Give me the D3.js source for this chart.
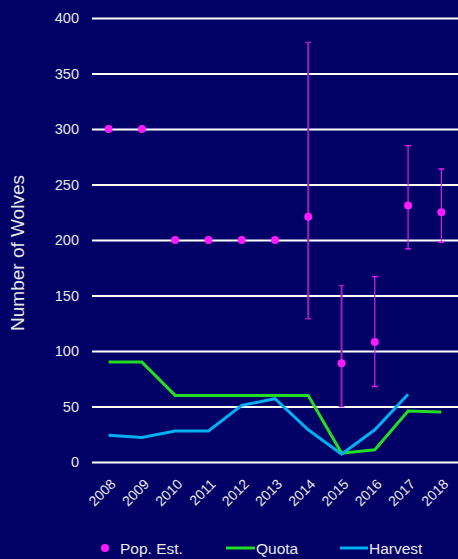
<!DOCTYPE html>
<html>
<head>
<meta charset="utf-8">
<script src="https://cdn.jsdelivr.net/npm/d3@7"></script>
<style>
  body { margin: 0; background: #000066; }
  svg { display: block; font-family: "Liberation Sans", Arial, sans-serif; }
</style>
</head>
<body>
<svg id="chart" width="458" height="559"></svg>
<script>
var years = ["2008","2009","2010","2011","2012","2013","2014","2015","2016","2017","2018"];
var popEst = [300, 300, 200, 200, 200, 200, 221, 89, 108, 231, 225];
var popLow = [null, null, null, null, null, null, 129, 50, 68, 192, 198];
var popHigh = [null, null, null, null, null, null, 378, 159, 167, 285, 264];
var quota = [90, 90, 60, 60, 60, 60, 60, 8, 11, 46, 45];
var harvest = [24, 22, 28, 28, 51, 57, 29, 7, 29, 61, null];
var yTicks = [0, 50, 100, 150, 200, 250, 300, 350, 400];

var svg = d3.select("#chart");
var margin = {top: 18, right: 0, bottom: 97, left: 92};
var width = 458, height = 559;

var x = d3.scaleBand()
    .domain(years)
    .range([margin.left, width - margin.right]);

var y = d3.scaleLinear()
    .domain([0, 400])
    .range([height - margin.bottom, margin.top]);

var textColor = "#e8e8e8";

// gridlines + y labels
var yAxis = d3.axisLeft(y)
    .tickValues(yTicks)
    .tickSize(-(width - margin.left - margin.right))
    .tickPadding(13);

var gy = svg.append("g")
    .attr("transform", "translate(" + margin.left + ",0)")
    .call(yAxis);
gy.select(".domain").remove();
gy.selectAll(".tick line").attr("stroke", "#ffffff").attr("stroke-width", 2);
gy.selectAll(".tick text").attr("fill", textColor).attr("font-size", "14.5px");

// x axis labels
var xAxis = d3.axisBottom(x).tickSize(0).tickPadding(0);
var gx = svg.append("g")
    .attr("transform", "translate(0," + (height - margin.bottom) + ")")
    .call(xAxis);
gx.select(".domain").remove();
gx.selectAll(".tick text")
    .attr("fill", textColor)
    .attr("font-size", "14px")
    .attr("text-anchor", "end")
    .attr("dy", null)
    .attr("transform", "translate(8,23) rotate(-45)");

// y title
svg.append("text")
    .attr("transform", "translate(24," + 253 + ") rotate(-90)")
    .attr("text-anchor", "middle")
    .attr("fill", textColor)
    .attr("font-size", "19px")
    .text("Number of Wolves");

function cx(i) { return x(years[i]) + x.bandwidth() / 2; }

// lines
var line = d3.line()
    .defined(function(d) { return d != null; })
    .x(function(d, i) { return cx(i); })
    .y(function(d) { return y(d); });

svg.append("path")
    .datum(quota)
    .attr("d", line)
    .attr("fill", "none")
    .attr("stroke", "#22dd22")
    .attr("stroke-width", 3);

svg.append("path")
    .datum(harvest)
    .attr("d", line)
    .attr("fill", "none")
    .attr("stroke", "#00b0f0")
    .attr("stroke-width", 3);

// error bars
var errIdx = d3.range(years.length).filter(function(i) { return popLow[i] != null; });
var errColor = function(i) { return i <= 7 ? "#a020b8" : "#e020e0"; };
var errWidth = function(i) { return i <= 7 ? 2 : 1.2; };

var eg = svg.append("g");
errIdx.forEach(function(i) {
    eg.append("line")
        .attr("x1", cx(i)).attr("x2", cx(i))
        .attr("y1", y(popLow[i])).attr("y2", y(popHigh[i]))
        .attr("stroke", errColor(i)).attr("stroke-width", errWidth(i));
    [popLow[i], popHigh[i]].forEach(function(v) {
        eg.append("line")
            .attr("x1", cx(i) - 3).attr("x2", cx(i) + 3)
            .attr("y1", y(v)).attr("y2", y(v))
            .attr("stroke", errColor(i)).attr("stroke-width", 1.5);
    });
});

// points
svg.selectAll("circle.pop")
    .data(popEst)
    .enter()
    .append("circle")
    .attr("class", "pop")
    .attr("cx", function(d, i) { return cx(i); })
    .attr("cy", function(d) { return y(d); })
    .attr("r", 4)
    .attr("fill", "#ff1aff");

// legend
var lg = svg.append("g").attr("font-size", "15.5px").attr("fill", textColor);
var ly = 548;
lg.append("circle").attr("cx", 105).attr("cy", ly).attr("r", 4).attr("fill", "#ff1aff");
lg.append("text").attr("x", 120).attr("y", ly + 6).text("Pop. Est.");
lg.append("line").attr("x1", 226).attr("x2", 255).attr("y1", ly).attr("y2", ly)
    .attr("stroke", "#22dd22").attr("stroke-width", 3);
lg.append("text").attr("x", 256).attr("y", ly + 6).text("Quota");
lg.append("line").attr("x1", 340).attr("x2", 368).attr("y1", ly).attr("y2", ly)
    .attr("stroke", "#00b0f0").attr("stroke-width", 3);
lg.append("text").attr("x", 369).attr("y", ly + 6).text("Harvest");
</script>
</body>
</html>
